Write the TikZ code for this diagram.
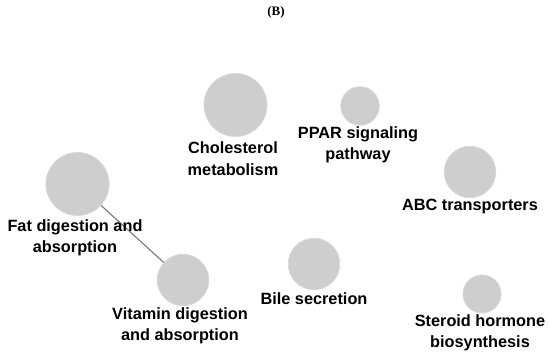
\documentclass[tikz,border=0pt]{standalone}
\usepackage{fontspec}
\setmainfont{Liberation Sans}
\newfontfamily\titlefont{Liberation Serif}
\definecolor{bubble}{RGB}{206,206,206}
\definecolor{bubbleedge}{RGB}{216,216,216}
\definecolor{linkgray}{RGB}{128,128,128}
\begin{document}
\begin{tikzpicture}[x=1pt,y=-1pt,
  term/.style={circle,fill=bubble,draw=bubbleedge,line width=0.8pt,inner sep=0pt,minimum size=#1},
  lbl/.style={inner sep=0pt,align=center,font=\bfseries\fontsize{16.3}{21.5}\selectfont},
  link/.style={draw=linkgray,line width=1.2pt}]
\useasboundingbox (0,0) rectangle (550,358);
\node[font=\titlefont\bfseries\fontsize{13}{15}\selectfont,inner sep=0pt] (title) at (276,12) {(B)};
% circles
\node[term=63pt] (chol) at (235.5,105) {};
\node[term=38.5pt] (ppar) at (360,106) {};
\node[term=51.5pt] (abc) at (470,172) {};
\node[term=63pt] (fat) at (77.5,184) {};
\node[term=51.5pt] (vit) at (183,280) {};
\node[term=51.5pt] (bile) at (314,264) {};
\node[term=38pt] (ster) at (482,294) {};
% link
\draw[link] (fat) -- (vit);
% labels
\node[lbl] (cholL) at (233,158.5) {Cholesterol\\metabolism};
\node[lbl] (pparL) at (358,145) {PPAR signaling\\pathway};
\node[lbl] (abcL) at (470,207) {ABC transporters};
\node[lbl] (fatL) at (75,238) {Fat digestion and\\absorption};
\node[lbl] (vitL) at (180,326) {Vitamin digestion\\and absorption};
\node[lbl] (bileL) at (314,299) {Bile secretion};
\node[lbl] (sterL) at (480,333) {Steroid hormone\\biosynthesis};
\end{tikzpicture}
\end{document}
